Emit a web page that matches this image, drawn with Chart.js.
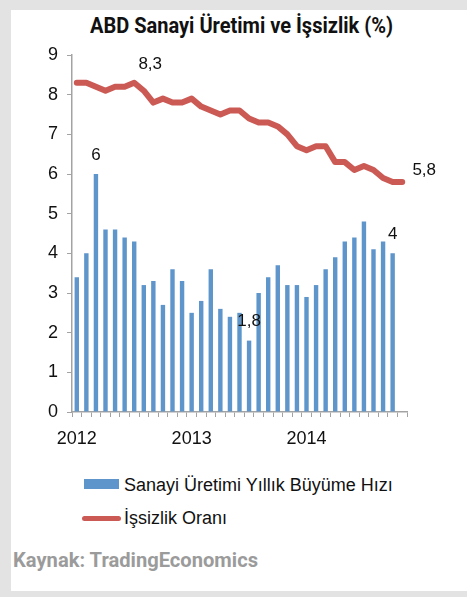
<!DOCTYPE html>
<html>
<head>
<meta charset="utf-8">
<script src="https://cdn.jsdelivr.net/npm/chart.js@4.4.0/dist/chart.umd.min.js"></script>
<style>
  html, body { margin: 0; padding: 0; }
  body { width: 467px; height: 597px; background: #e3e3e3; position: relative; overflow: hidden; font-family: "Liberation Sans", Arial, sans-serif; }
  #panel { position: absolute; left: 11px; top: 10px; width: 456px; height: 581px; background: #fff; }
  #chartWrap { position: absolute; left: 0; top: 0; width: 467px; height: 460px; }
  .condensed { position: absolute; white-space: nowrap; font-family: "Roboto", "Liberation Sans", sans-serif; font-weight: bold; transform-origin: left center; }
  #title { top: 13px; font-size: 22px; color: #111; }
  #source { top: 548px; left: 13px; font-size: 21px; color: #9b9b9b; }
  .legend-item { position: absolute; left: 82px; font-size: 18px; color: #111; white-space: nowrap; }
  .legend-item .swatch { position: absolute; }
  .legend-item span.txt { position: absolute; left: 42px; top: 0; }
</style>
</head>
<body>
<div id="panel"></div>
<div id="title" class="condensed">ABD Sanayi Üretimi ve İşsizlik (%)</div>
<div id="chartWrap"><canvas id="chart" width="467" height="460"></canvas></div>
<div class="legend-item" style="top:475px;">
  <div class="swatch" style="left:2px; top:4px; width:35px; height:10px; background:#5e95ca;"></div>
  <span class="txt">Sanayi Üretimi Yıllık Büyüme Hızı</span>
</div>
<div class="legend-item" style="top:508px;">
  <div class="swatch" style="left:0; top:8px; width:39px; height:5px; border-radius:3px; background:#cc5a54;"></div>
  <span class="txt">İşsizlik Oranı</span>
</div>
<div id="source" class="condensed">Kaynak: TradingEconomics</div>

<script>
// --- DATA ---
const months = [
  '2012-01','2012-02','2012-03','2012-04','2012-05','2012-06','2012-07','2012-08','2012-09','2012-10','2012-11','2012-12',
  '2013-01','2013-02','2013-03','2013-04','2013-05','2013-06','2013-07','2013-08','2013-09','2013-10','2013-11','2013-12',
  '2014-01','2014-02','2014-03','2014-04','2014-05','2014-06','2014-07','2014-08','2014-09','2014-10','2014-11'
];
const yearLabels = { 0: '2012', 12: '2013', 24: '2014' };

// Sanayi üretimi yıllık büyüme (%) - Kasım 2014 yok
const sanayiUretimi = [
  3.4, 4.0, 6.0, 4.6, 4.6, 4.4, 4.3, 3.2, 3.3, 2.7, 3.6, 3.3,
  2.5, 2.8, 3.6, 2.6, 2.4, 2.5, 1.8, 3.0, 3.4, 3.7, 3.2, 3.2,
  2.9, 3.2, 3.6, 3.9, 4.3, 4.4, 4.8, 4.1, 4.3, 4.0, null
];

// İşsizlik oranı (%)
const issizlikOrani = [
  8.3, 8.3, 8.2, 8.1, 8.2, 8.2, 8.3, 8.1, 7.8, 7.9, 7.8, 7.8,
  7.9, 7.7, 7.6, 7.5, 7.6, 7.6, 7.4, 7.3, 7.3, 7.2, 7.0, 6.7,
  6.6, 6.7, 6.7, 6.3, 6.3, 6.1, 6.2, 6.1, 5.9, 5.8, 5.8
];

const yTicks = [0, 1, 2, 3, 4, 5, 6, 7, 8, 9];

// Etiketlenen noktalar (dataset index, data index)
const labeledBars = [2, 18, 33];
const labeledLine = [6, 34];

// --- etiket plugin ---
const pointLabels = {
  id: 'pointLabels',
  afterDatasetsDraw(chart) {
    const c = chart.ctx;
    const fmt = v => String(v).replace('.', ',');
    c.save();
    c.font = '17px "Liberation Sans", Arial, sans-serif';
    c.fillStyle = '#111';
    c.textAlign = 'center';
    c.textBaseline = 'middle';
    const barMeta = chart.getDatasetMeta(0);
    labeledBars.forEach(i => {
      const el = barMeta.data[i];
      c.fillText(fmt(sanayiUretimi[i]), el.x, el.y - 19);
    });
    const lineMeta = chart.getDatasetMeta(1);
    labeledLine.forEach((i, k) => {
      const el = lineMeta.data[i];
      const dx = k === 0 ? 16 : 22;
      const dy = k === 0 ? -18 : -12;
      c.fillText(fmt(issizlikOrani[i]), el.x + dx, el.y + dy);
    });
    c.restore();
  }
};

const axisColor = '#a3a3a3';

new Chart(document.getElementById('chart').getContext('2d'), {
  type: 'bar',
  data: {
    labels: months,
    datasets: [
      {
        type: 'bar',
        label: 'Sanayi Üretimi Yıllık Büyüme Hızı',
        data: sanayiUretimi,
        backgroundColor: '#5e95ca',
        barPercentage: 0.46,
        categoryPercentage: 1,
        order: 2
      },
      {
        type: 'line',
        label: 'İşsizlik Oranı',
        data: issizlikOrani,
        borderColor: '#cc5a54',
        borderWidth: 6,
        borderCapStyle: 'round',
        borderJoinStyle: 'round',
        pointRadius: 0,
        tension: 0,
        order: 1
      }
    ]
  },
  options: {
    responsive: false,
    animation: false,
    layout: { padding: { top: 55, right: 60, left: 0, bottom: 0 } },
    plugins: {
      legend: { display: false },
      tooltip: { enabled: false }
    },
    scales: {
      x: {
        grid: { display: true, drawOnChartArea: false, color: axisColor, tickLength: 5, offset: true },
        border: { color: axisColor, width: 1.5 },
        ticks: {
          autoSkip: false,
          maxRotation: 0,
          padding: 11,
          color: '#111',
          font: { family: '"Liberation Sans", Arial, sans-serif', size: 18 },
          callback: (v, i) => yearLabels[i] || ''
        },
        afterFit: s => { s.height = 48; }
      },
      y: {
        min: 0,
        max: 9,
        grid: { display: true, drawOnChartArea: false, color: axisColor, tickLength: 5 },
        border: { color: axisColor, width: 1.5 },
        afterBuildTicks: s => { s.ticks = yTicks.map(v => ({ value: v })); },
        ticks: {
          padding: 9,
          color: '#111',
          font: { family: '"Liberation Sans", Arial, sans-serif', size: 18 }
        },
        afterFit: s => { s.width = 72; }
      }
    }
  },
  plugins: [pointLabels]
});

// --- başlık / kaynak: dar yazı genişliğini ayarla ---
const fitWidth = (el, left, width) => {
  const w = el.getBoundingClientRect().width;
  el.style.left = left + 'px';
  el.style.transform = `scaleX(${width / w})`;
};
fitWidth(document.getElementById('title'), 90, 303);
fitWidth(document.getElementById('source'), 13, 245);
</script>
</body>
</html>
